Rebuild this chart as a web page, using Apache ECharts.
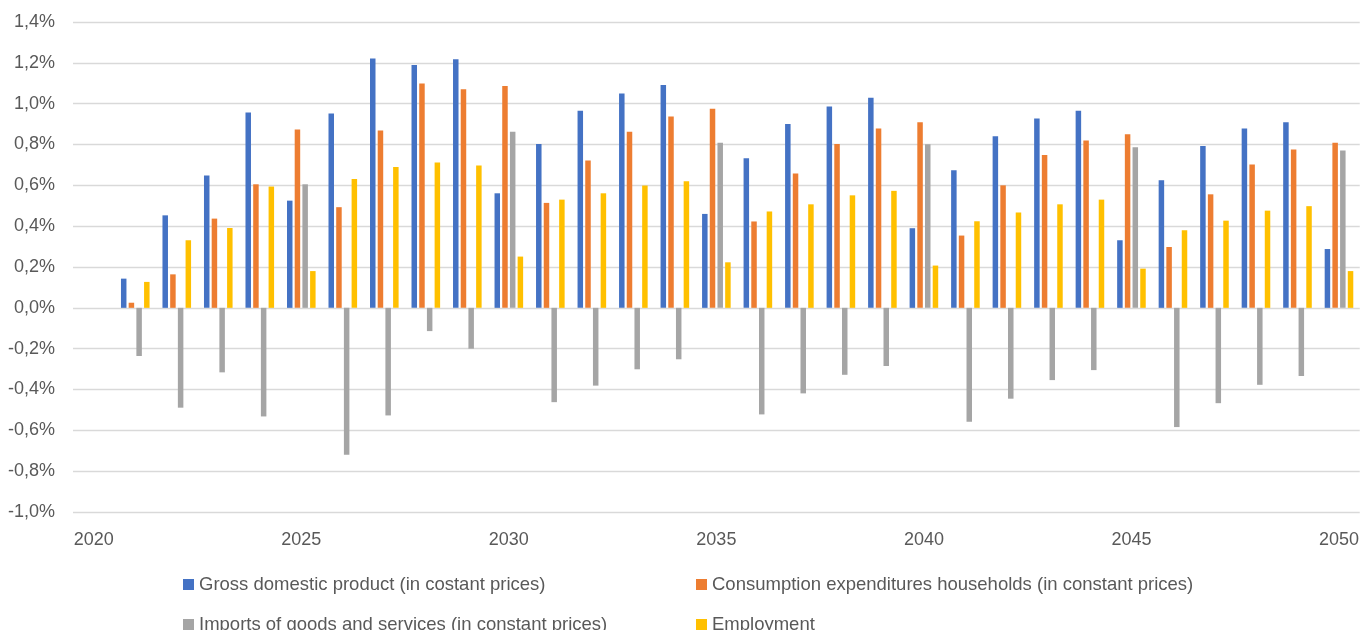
<!DOCTYPE html>
<html>
<head>
<meta charset="utf-8">
<script src="https://cdn.jsdelivr.net/npm/echarts@6/dist/echarts.min.js"></script>
<style>
  html, body { margin: 0; padding: 0; background: #fff; }
  #chart { width: 1362px; height: 630px; }
</style>
</head>
<body>
<div id="chart"></div>
<script>
// years on the axis (2020 has no data, only a label)
var years = [];
for (var y = 2020; y <= 2050; y++) years.push(String(y));

// annual change in %
var gdp = [null,
  0.143, 0.453, 0.648, 0.957, 0.525, 0.952, 1.221, 1.190, 1.217, 0.561,
  0.803, 0.965, 1.050, 1.092, 0.460, 0.733, 0.900, 0.986, 1.029, 0.390,
  0.674, 0.841, 0.927, 0.965, 0.331, 0.625, 0.793, 0.878, 0.909, 0.288];
var consumption = [null,
  0.025, 0.164, 0.437, 0.605, 0.873, 0.493, 0.869, 1.099, 1.071, 1.087,
  0.514, 0.722, 0.862, 0.937, 0.975, 0.423, 0.658, 0.803, 0.878, 0.909,
  0.354, 0.600, 0.749, 0.820, 0.850, 0.298, 0.556, 0.702, 0.775, 0.808];
var imports = [null,
  -0.236, -0.489, -0.316, -0.532, 0.605, -0.720, -0.527, -0.114, -0.200, 0.862,
  -0.462, -0.381, -0.301, -0.252, 0.808, -0.522, -0.419, -0.328, -0.285, 0.801,
  -0.558, -0.445, -0.354, -0.305, 0.787, -0.584, -0.467, -0.377, -0.334, 0.771];
var employment = [null,
  0.127, 0.331, 0.391, 0.594, 0.180, 0.631, 0.690, 0.712, 0.697, 0.251,
  0.530, 0.561, 0.599, 0.620, 0.223, 0.472, 0.507, 0.551, 0.573, 0.207,
  0.424, 0.467, 0.507, 0.530, 0.192, 0.380, 0.427, 0.476, 0.498, 0.180];

var seriesNames = [
  'Gross domestic product (in costant prices)',
  'Consumption expenditures households (in constant prices)',
  'Imports of goods and services (in constant prices)',
  'Employment'
];
var colors = ['#4472C4', '#ED7D31', '#A5A5A5', '#FFC000'];

var chart = echarts.init(document.getElementById('chart'));

function pct(v) {
  return v.toFixed(1).replace('.', ',') + '%';
}

var legendText = { color: '#595959', fontSize: 18.5, fontFamily: 'Liberation Sans', lineHeight: 18 };

var option = {
  animation: false,
  color: colors,
  textStyle: { fontFamily: 'Liberation Sans' },
  grid: { left: 73, right: 2, top: 22, bottom: 118 },
  legend: [
    {
      data: [seriesNames[0], seriesNames[2]],
      orient: 'vertical',
      left: 183, top: 575, height: 80,
      padding: 0,
      itemWidth: 11, itemHeight: 11, itemGap: 21,
      icon: 'rect',
      textStyle: legendText
    },
    {
      data: [seriesNames[1], seriesNames[3]],
      orient: 'vertical',
      left: 696, top: 575, height: 80,
      padding: 0,
      itemWidth: 11, itemHeight: 11, itemGap: 21,
      icon: 'rect',
      textStyle: legendText
    }
  ],
  xAxis: {
    type: 'category',
    data: years,
    axisLine: { show: false },
    axisTick: { show: false },
    axisLabel: {
      interval: 4,
      color: '#595959',
      fontSize: 18,
      margin: 19
    }
  },
  yAxis: {
    type: 'value',
    min: -1.0,
    max: 1.4,
    interval: 0.2,
    axisLine: { show: false },
    axisTick: { show: false },
    splitLine: { lineStyle: { color: '#d9d9d9', width: 1.3 } },
    axisLabel: {
      color: '#595959',
      fontSize: 18,
      margin: 18,
      formatter: pct
    }
  },
  series: [
    { name: seriesNames[0], type: 'bar', data: gdp, barWidth: 5.5, barGap: '40%' },
    { name: seriesNames[1], type: 'bar', data: consumption, barWidth: 5.5, barGap: '40%' },
    { name: seriesNames[2], type: 'bar', data: imports, barWidth: 5.5, barGap: '40%' },
    { name: seriesNames[3], type: 'bar', data: employment, barWidth: 5.5, barGap: '40%' }
  ]
};

chart.setOption(option);
</script>
</body>
</html>
